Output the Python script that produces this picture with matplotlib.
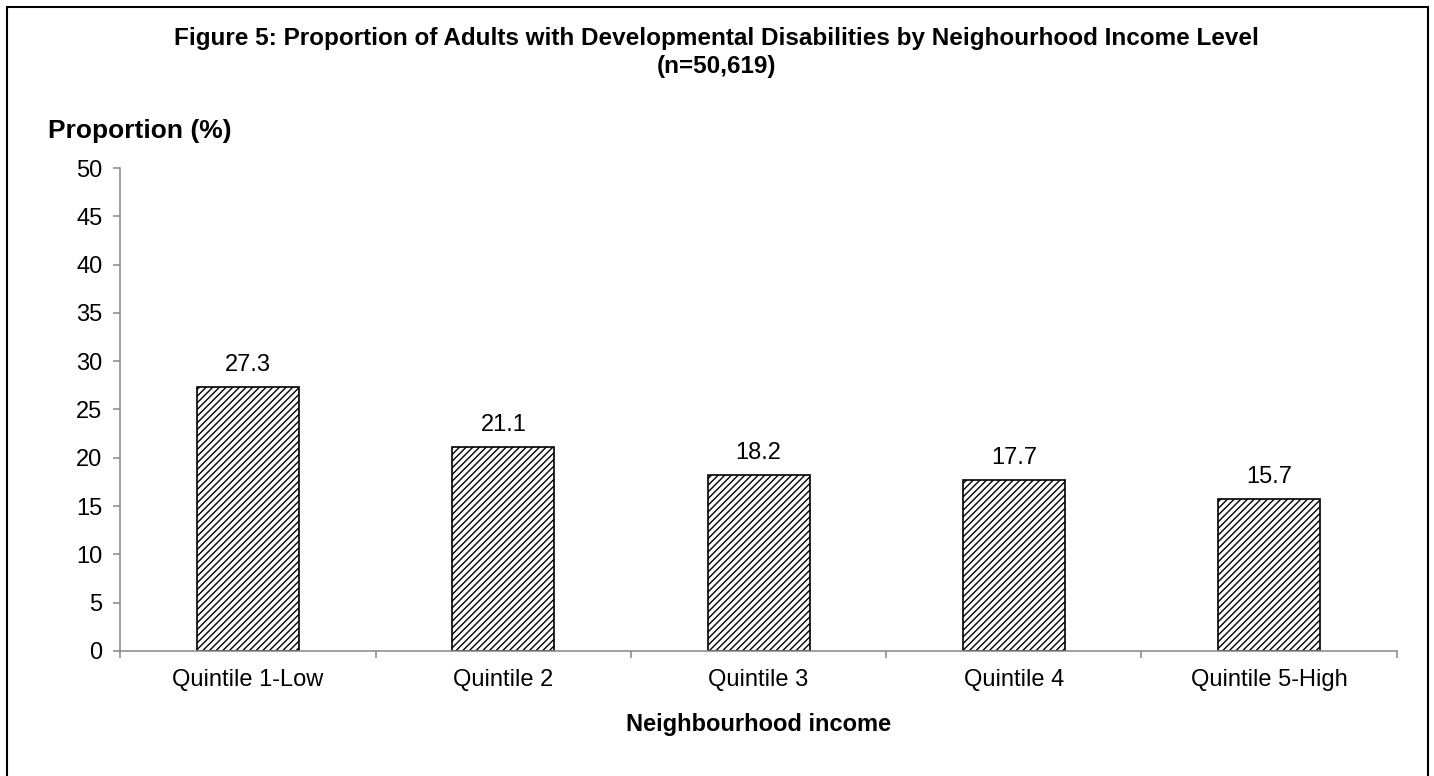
#!/usr/bin/env python3
# -*- coding: utf-8 -*-
#
# Bar chart of adults with developmental disabilities by neighbourhood income.

import numpy as np
import matplotlib.pyplot as plt
from matplotlib.patches import Rectangle

# Data.
quintiles = ["Quintile 1-Low", "Quintile 2", "Quintile 3", "Quintile 4",
             "Quintile 5-High"]
proportions = [27.3, 21.1, 18.2, 17.7, 15.7]
y_ticks = [0, 5, 10, 15, 20, 25, 30, 35, 40, 45, 50]

title_lines = ["Figure 5: Proportion of Adults with Developmental Disabilities "
               "by Neighourhood Income Level", "(n=50,619)"]

plt.rcParams['font.family'] = ['Liberation Sans', 'DejaVu Sans']
plt.rcParams['hatch.linewidth'] = 1.0
plt.rcParams['hatch.color'] = 'black'

axis_grey = '#868686'

fig = plt.figure(figsize=(14.34, 7.76), dpi=100)
ax = fig.add_axes([0.0840, 0.1611, 0.8900, 0.6224])

x = np.arange(len(quintiles))
bars = ax.bar(x, proportions, width=0.40, color='white', edgecolor='black',
              linewidth=1.2, hatch='/////')

# Value labels above each bar.
for xi, val in zip(x, proportions):
    ax.annotate("%.1f" % val, (xi, val), xytext=(0, 8),
                textcoords='offset points', ha='center', va='bottom',
                fontsize=17)

ax.set_xlim(-0.5, len(quintiles) - 0.5)
ax.set_ylim(0, 50)
ax.set_yticks(y_ticks)
ax.tick_params(axis='y', labelsize=17, length=5, width=1.1, color=axis_grey,
               pad=8)

# Ticks sit between categories, labels sit under the bars.
ax.set_xticks(np.arange(len(quintiles) + 1) - 0.5)
ax.set_xticklabels([])
ax.set_xticks(x, quintiles, minor=True)
ax.tick_params(axis='x', which='major', length=5, width=1.1, color=axis_grey)
ax.tick_params(axis='x', which='minor', length=0, labelsize=17, pad=13)

for side in ['top', 'right']:
    ax.spines[side].set_visible(False)
for side in ['left', 'bottom']:
    ax.spines[side].set_color(axis_grey)
    ax.spines[side].set_linewidth(1.1)

ax.set_xlabel("Neighbourhood income", fontsize=17, fontweight='bold',
              labelpad=16)

# Two-line figure title.
for line, ypix in zip(title_lines, [39, 67]):
    fig.text(716 / 1434, 1 - ypix / 776, line, ha='center', va='center',
             fontsize=17.5, fontweight='bold')
fig.text(48 / 1434, 1 - 131 / 776, "Proportion (%)", ha='left', va='center',
         fontsize=19, fontweight='bold')

# Outer frame.
fig.patches.append(Rectangle((7 / 1434, -0.02), 1421 / 1434, 1.02 - 7 / 776,
                             transform=fig.transFigure, fill=False,
                             edgecolor='black', linewidth=1.5))

fig.savefig("out.png", dpi=100)
